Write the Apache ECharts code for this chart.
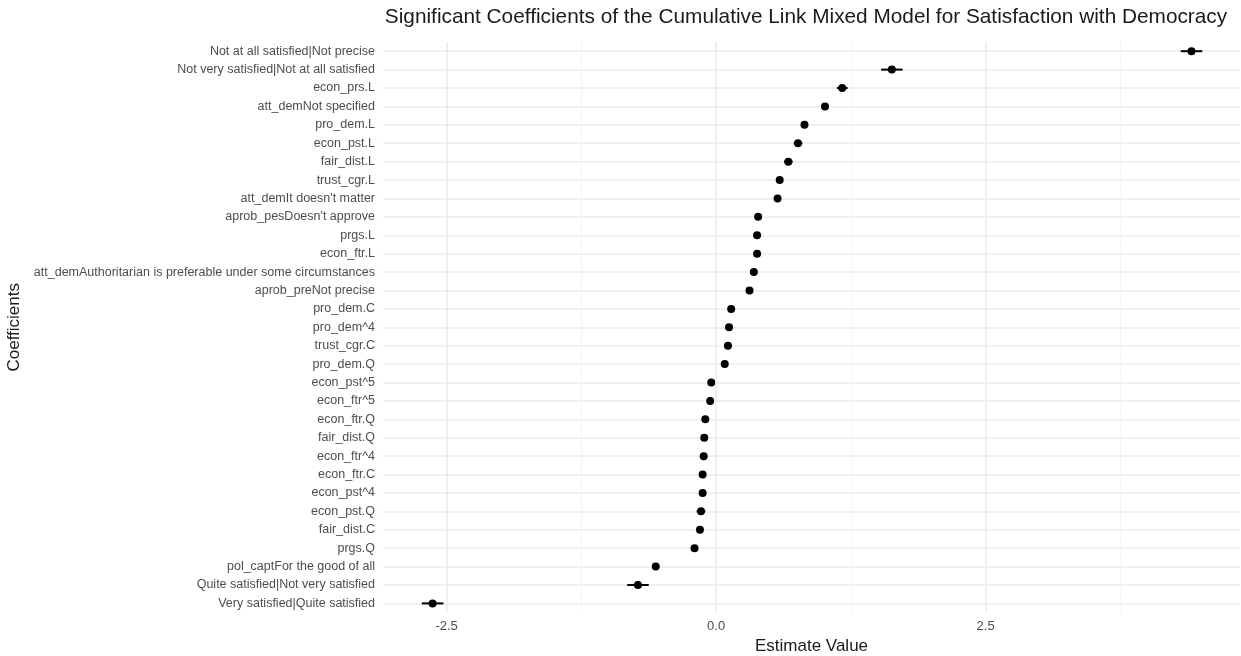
<!DOCTYPE html>
<html>
<head>
<meta charset="utf-8">
<script src="https://cdn.jsdelivr.net/npm/echarts@6/dist/echarts.min.js"></script>
<style>
html,body{margin:0;padding:0;background:#fff;}
#chart{width:1241px;height:656px;}
</style>
</head>
<body>
<div id="chart"></div>
<script>
const categories = [
  "Not at all satisfied|Not precise",
  "Not very satisfied|Not at all satisfied",
  "econ_prs.L",
  "att_demNot specified",
  "pro_dem.L",
  "econ_pst.L",
  "fair_dist.L",
  "trust_cgr.L",
  "att_demIt doesn't matter",
  "aprob_pesDoesn't approve",
  "prgs.L",
  "econ_ftr.L",
  "att_demAuthoritarian is preferable under some circumstances",
  "aprob_preNot precise",
  "pro_dem.C",
  "pro_dem^4",
  "trust_cgr.C",
  "pro_dem.Q",
  "econ_pst^5",
  "econ_ftr^5",
  "econ_ftr.Q",
  "fair_dist.Q",
  "econ_ftr^4",
  "econ_ftr.C",
  "econ_pst^4",
  "econ_pst.Q",
  "fair_dist.C",
  "prgs.Q",
  "pol_captFor the good of all",
  "Quite satisfied|Not very satisfied",
  "Very satisfied|Quite satisfied"
];
const estimates = [4.41, 1.63, 1.17, 1.01, 0.82, 0.76, 0.67, 0.59, 0.57, 0.39, 0.38, 0.38, 0.35, 0.31,
  0.14, 0.12, 0.11, 0.08, -0.045, -0.055, -0.10, -0.11, -0.115, -0.125, -0.125, -0.14, -0.15, -0.20,
  -0.56, -0.725, -2.63];
const ciHalf = [0.10, 0.10, 0.05, 0.03, 0.03, 0.04, 0.04, 0.03, 0.03, 0.03, 0.03, 0.03, 0.03, 0.03,
  0.03, 0.03, 0.03, 0.03, 0.03, 0.03, 0.03, 0.03, 0.03, 0.03, 0.03, 0.04, 0.03, 0.03,
  0.03, 0.10, 0.10];
const xMajorTicks = [-2.5, 0, 2.5];
const xMinorTicks = [-1.25, 1.25, 3.75];

const chart = echarts.init(document.getElementById('chart'));
const FONT = '"Liberation Sans", Arial, Helvetica, sans-serif';

const pointData = estimates.map((v, i) => [v, i]);
const errData = estimates.map((v, i) => [v - ciHalf[i], v + ciHalf[i], i]);

chart.setOption({
  animation: false,
  backgroundColor: '#fff',
  graphic: [{
    type: 'text', x: 806, y: 17,
    style: {
      text: 'Significant Coefficients of the Cumulative Link Mixed Model for Satisfaction with Democracy',
      font: '20.8px ' + FONT, fill: '#1a1a1a', textAlign: 'center', textVerticalAlign: 'middle'
    }
  }],
  grid: { left: 383, right: 1, top: 42, bottom: 43.4, containLabel: false, outerBoundsMode: 'none' },
  xAxis: {
    type: 'value', min: -3.09, max: 4.86,
    name: 'Estimate Value', nameLocation: 'middle', nameGap: 22,
    nameTextStyle: { fontFamily: FONT, fontSize: 17, color: '#1a1a1a' },
    axisLine: { show: false }, axisTick: { show: false },
    splitLine: { show: false },
    axisLabel: {
      customValues: xMajorTicks, color: '#4d4d4d', fontFamily: FONT, fontSize: 13, margin: 7,
      formatter: v => Number(v).toFixed(1)
    }
  },
  yAxis: {
    type: 'category', data: categories, inverse: true,
    name: 'Coefficients', nameLocation: 'middle', nameGap: 356.5,
    nameTextStyle: { fontFamily: FONT, fontSize: 17, color: '#1a1a1a' },
    axisLine: { show: false }, axisTick: { show: false },
    axisLabel: { color: '#4d4d4d', fontFamily: FONT, fontSize: 12.5, margin: 8 },
    splitLine: { show: true, alignWithLabel: true, lineStyle: { color: '#ebebeb', width: 1.6 } }
  },
  series: [
    {
      type: 'line', data: [], silent: true,
      markLine: {
        silent: true, symbol: 'none', label: { show: false },
        data: xMinorTicks.map(v => ({ xAxis: v, lineStyle: { color: '#f4f4f4', width: 1, type: 'solid' } }))
          .concat(xMajorTicks.map(v => ({ xAxis: v, lineStyle: { color: '#ebebeb', width: 1.6, type: 'solid' } })))
      }
    },
    {
      type: 'custom', data: errData, silent: true, z: 3,
      renderItem: function (params, api) {
        const a = api.coord([api.value(0), api.value(2)]);
        const b = api.coord([api.value(1), api.value(2)]);
        return {
          type: 'line',
          shape: { x1: a[0], y1: a[1], x2: b[0], y2: b[1] },
          style: { stroke: '#000', lineWidth: 2 }
        };
      },
      encode: { x: [0, 1], y: 2 }
    },
    {
      type: 'scatter', data: pointData, symbol: 'circle', symbolSize: 8, z: 4,
      itemStyle: { color: '#000', opacity: 1 }
    }
  ]
});
</script>
</body>
</html>
